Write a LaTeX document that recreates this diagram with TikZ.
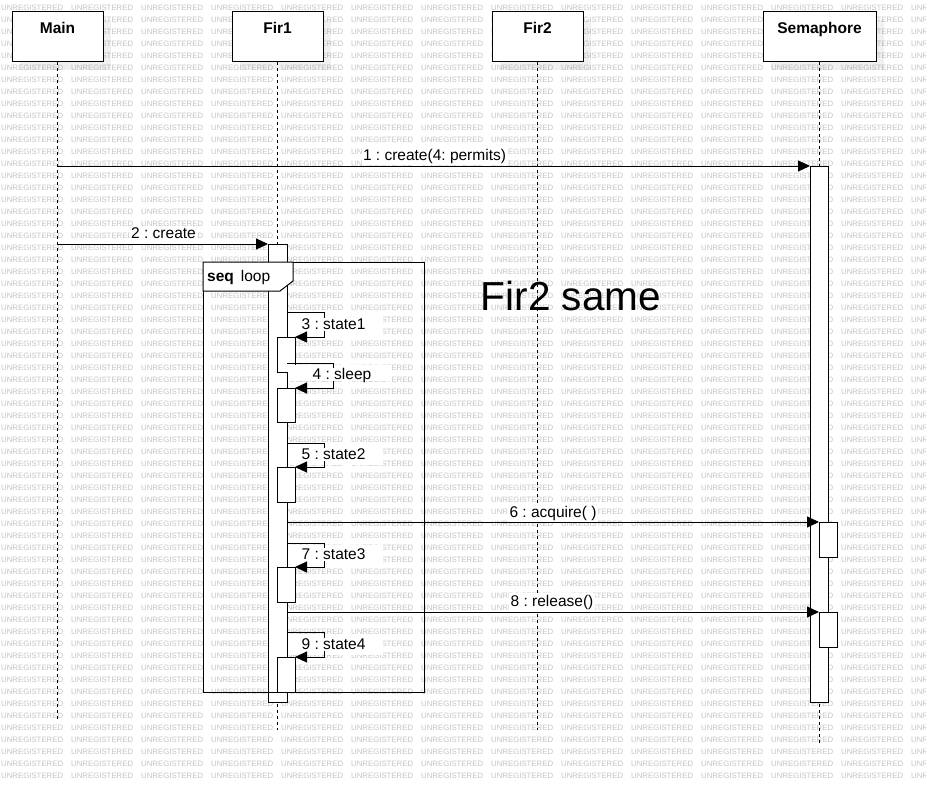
\documentclass[tikz,border=0pt]{standalone}
\usepackage{fontspec}
\setmainfont{Liberation Sans}
\usetikzlibrary{arrows.meta}
\frenchspacing
\newcommand\wmunit{\makebox[70pt][l]{UNREGISTERED}}
\newcommand\wmline{\wmunit\wmunit\wmunit\wmunit\wmunit\wmunit\wmunit\wmunit\wmunit\wmunit\wmunit\wmunit\wmunit\wmunit}
\begin{document}
\begin{tikzpicture}[x=1pt,y=-1pt,
  wm/.style={anchor=base west,inner sep=0pt,text=black!23,font=\fontsize{7.8}{9}\selectfont},
  head/.style={draw=black,line width=1pt,fill=white,minimum height=50pt,inner sep=0pt,outer sep=0pt},
  headtxt/.style={anchor=base,inner sep=0pt,font=\bfseries\fontsize{15.5}{18}\selectfont},
  shadowbox/.style={fill=black,opacity=0.06,draw=none},
  life/.style={draw=black,line width=1pt,dash pattern=on 3pt off 3pt},
  act/.style={draw=black,line width=1pt,fill=white,inner sep=0pt,outer sep=0pt,anchor=north west},
  frame/.style={draw=black,line width=1pt,inner sep=0pt,outer sep=0pt,anchor=north west},
  msg/.style={draw=black,line width=1pt,-{Triangle[length=12pt,width=11pt]}},
  lbl/.style={anchor=base,inner sep=1.5pt,fill=white,font=\fontsize{15.5}{18}\selectfont},
  slbl/.style={anchor=base west,inner sep=0.5pt,fill=white,text height=11pt,text depth=1pt,font=\fontsize{15.5}{18}\selectfont},
  lblbg/.style={fill=white,draw=none},
  bignote/.style={anchor=base,inner sep=0pt,font=\fontsize{40.5}{46}\selectfont},
]
\useasboundingbox (0,0) rectangle (926,792);
\fill[white] (0,0) rectangle (926,792);
% watermark
\foreach \j in {0,...,64}{
  \node[wm] (wm\j) at (1,{10.1+12*\j}) {\wmline};
}
% shadows
\fill[shadowbox] (20,20) rectangle (111,70);
\fill[shadowbox] (240,20) rectangle (331,70);
\fill[shadowbox] (500,20) rectangle (591,70);
\fill[shadowbox] (771,20) rectangle (884,70);
% heads
\node[head,minimum width=91pt] (main) at (57.5,37) {};
\node[head,minimum width=91pt] (fir1) at (277.5,37) {};
\node[head,minimum width=91pt] (fir2) at (537.5,37) {};
\node[head,minimum width=113pt] (sem) at (819.5,37) {};
\node[headtxt] (mainT) at (57.5,34) {Main};
\node[headtxt] (fir1T) at (277.5,34) {Fir1};
\node[headtxt] (fir2T) at (537.5,34) {Fir2};
\node[headtxt] (semT) at (819.5,34) {Semaphore};
% lifelines
\coordinate (mainEnd) at (57.5,720);
\coordinate (fir1End) at (277.5,730);
\coordinate (fir2End) at (537.5,730);
\coordinate (semEnd) at (819.5,743);
\draw[life] (main.south) -- (mainEnd);
\draw[life] (fir1.south) -- (fir1End);
\draw[life] (fir2.south) -- (fir2End);
\draw[life] (sem.south) -- (semEnd);
% activations
\node[act,minimum width=19pt,minimum height=458pt] (fa) at (268,244) {};
\node[act,minimum width=18pt,minimum height=536pt] (sa) at (810,166) {};
\node[act,minimum width=18pt,minimum height=35pt] (s1) at (819,522) {};
\node[act,minimum width=18pt,minimum height=35pt] (s2) at (819,612) {};
\node[act,minimum width=18pt,minimum height=35pt] (a3) at (277,337) {};
\node[act,minimum width=18pt,minimum height=34pt] (a4) at (277,388) {};
\node[act,minimum width=18pt,minimum height=35pt] (a5) at (277,467) {};
\node[act,minimum width=18pt,minimum height=35pt] (a7) at (277,567) {};
\node[act,minimum width=18pt,minimum height=35pt] (a9) at (277,657) {};
% loop frame
\node[frame,minimum width=221pt,minimum height=430pt] (loop) at (203,262) {};
\draw[line width=1pt,fill=white] (loop.north west) -- (293,262) -- (293,281) -- (280,291) -- (203,291) -- cycle;
\node[anchor=base west,inner sep=0pt,font=\fontsize{15.5}{18}\selectfont] (loopT) at (207,281.5) {\textbf{seq}\hspace{7pt}loop};
% messages
\coordinate (m1s) at (57.5,166);
\coordinate (m2s) at (57.5,244);
\coordinate (m6s) at (287,522);
\coordinate (m8s) at (287,612);
\draw[msg] (m1s) -- (sa.north west);
\draw[msg] (m2s) -- (fa.north west);
\draw[msg] (m6s) -- (s1.north west);
\draw[msg] (m8s) -- (s2.north west);
\node[lbl] (l1) at (434.5,160) {1 : create(4: permits)};
\node[lbl] (l2) at (163.5,238) {2 : create};
\node[lbl] (l6) at (553,517) {6 : acquire( )};
\node[lbl] (l8) at (552,606) {8 : release()};
% self messages
\fill[lblbg] (287.5,315) rectangle (383,335);
\fill[lblbg] (287.5,365) rectangle (392,381);
\fill[lblbg] (287.5,445) rectangle (383,465);
\fill[lblbg] (287.5,545) rectangle (383,565);
\fill[lblbg] (287.5,634) rectangle (383,655);
\coordinate (s3) at (287,312);
\coordinate (s4) at (287,363);
\coordinate (s5) at (287,443);
\coordinate (s7) at (287,543);
\coordinate (s9) at (287,632);
\draw[msg] (s3) -- (324,312) -- (324,337) -- (a3.north east);
\draw[msg] (s4) -- (333,363) -- (333,388) -- (a4.north east);
\draw[msg] (s5) -- (324,443) -- (324,467) -- (a5.north east);
\draw[msg] (s7) -- (324,543) -- (324,567) -- (a7.north east);
\draw[msg] (s9) -- (324,632) -- (324,657) -- (a9.north east);
\node[slbl] (l3) at (301,329) {3 : state1};
\node[slbl] (l4) at (312,379) {4 : sleep};
\node[slbl] (l5) at (301,459) {5 : state2};
\node[slbl] (l7) at (301,559) {7 : state3};
\node[slbl] (l9) at (301,649) {9 : state4};
% note
\node[bignote] (note) at (571,310) {Fir2 same};
\end{tikzpicture}
\end{document}
